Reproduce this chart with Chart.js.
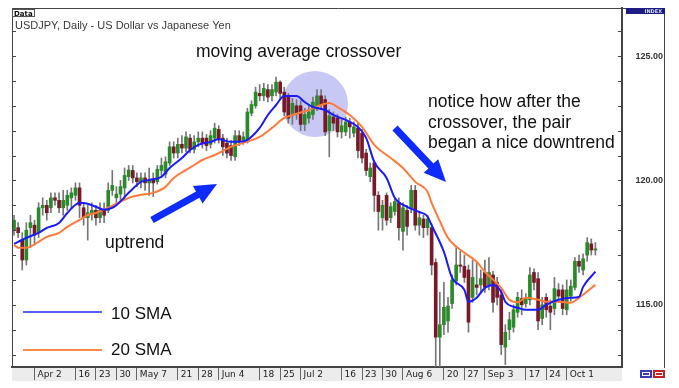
<!DOCTYPE html>
<html>
<head>
<meta charset="utf-8">
<script src="https://cdn.jsdelivr.net/npm/chart.js@4.4.0/dist/chart.umd.min.js"></script>
<style>
  html, body { margin: 0; padding: 0; background: #fff; }
  canvas { display: block; }
</style>
</head>
<body>
<canvas id="chart" width="679" height="388"></canvas>
<script>
// USDJPY daily, 26 Mar - 10 Oct 2007 (one entry per trading day)
const weekLabels = ["", "Apr 2", "", "16", "23", "30", "May 7", "", "21", "28", "Jun 4", "", "18", "25",
  "Jul 2", "", "16", "23", "30", "Aug 6", "", "20", "27", "Sep 3", "", "17", "24", "Oct 1", "", ""];

const open = [
  118.0, 118.1, 117.6, 116.8, 118.1,  118.2, 117.9, 118.9, 119.0, 118.9,
  119.3, 119.2, 118.9, 119.0, 119.3,  119.4, 119.7, 118.9, 118.5, 118.7,
  118.8, 118.5, 118.8, 118.8, 119.6,  119.3, 119.45, 119.7, 120.15, 120.4,
  120.1, 119.95, 120.1, 119.9, 120.05,  119.95, 120.4, 120.25, 120.7, 121.35,
  121.1, 121.45, 121.3, 121.7, 121.25,  121.55, 121.7, 121.7, 121.45, 121.7,
  122.05, 121.7, 121.5, 121.4, 120.95,  121.8, 121.6, 121.55, 122.7, 123.0,
  123.5, 123.4, 123.65, 123.4, 123.55,  123.95, 123.55, 123.35, 122.6, 123.0,
  123.0, 122.25, 122.5, 122.65, 122.9,  123.4, 123.25, 122.0, 122.55, 122.5,
  121.95, 121.95, 122.35, 121.9, 122.1,  121.9, 121.1, 120.15, 120.7, 119.4,
  118.5, 119.4, 118.5, 118.75, 119.1,  117.95, 118.8, 118.9, 119.6, 118.2,
  118.45, 118.1, 118.1, 116.7, 113.7,  114.2, 114.35, 115.05, 115.95, 116.6,
  116.55, 116.4, 115.3, 115.8, 115.8,  116.3, 115.8, 116.2, 115.9, 115.4,
  113.3, 114.0, 114.1, 114.7, 115.25,  115.05, 115.2, 116.3, 116.05, 114.45,
  115.3, 114.95, 114.85, 115.6, 115.6,  114.8, 115.35, 115.7, 116.75, 116.4,
  117.0, 117.45, 117.2
];
const high = [
  118.6, 118.3, 117.9, 118.3, 118.6,  118.4, 119.1, 119.3, 119.2, 119.5,
  119.5, 119.5, 119.6, 119.6, 119.7,  119.9, 119.9, 119.1, 119.0, 119.1,
  119.0, 119.1, 119.1, 119.9, 120.4,  119.75, 120.0, 120.5, 120.6, 120.6,
  120.3, 120.3, 120.3, 120.5, 120.3,  120.6, 120.9, 120.95, 121.55, 121.55,
  121.7, 121.8, 121.95, 121.85, 121.8,  121.95, 121.95, 121.85, 122.0, 122.3,
  122.2, 121.85, 121.7, 121.6, 122.0,  122.0, 121.95, 122.9, 123.2, 123.75,
  123.85, 123.9, 123.85, 123.85, 124.15,  124.0, 123.75, 123.5, 123.3, 123.25,
  123.2, 122.9, 123.0, 123.35, 123.65,  123.65, 123.4, 122.85, 122.75, 122.65,
  122.45, 122.55, 122.5, 122.35, 122.3,  122.05, 121.25, 120.7, 120.8, 119.55,
  119.2, 119.5, 119.1, 119.3, 119.3,  119.1, 119.0, 119.8, 119.8, 118.7,
  118.6, 118.6, 118.25, 116.85, 115.5,  115.9, 115.3, 116.2, 117.3, 117.15,
  117.0, 116.6, 116.8, 116.7, 116.4,  116.8, 116.9, 116.35, 116.1, 115.6,
  114.2, 114.7, 115.0, 115.5, 115.6,  115.45, 116.5, 116.45, 116.3, 115.3,
  115.45, 115.2, 116.1, 115.85, 115.8,  116.0, 116.0, 116.9, 117.0, 117.05,
  117.7, 117.65, 117.5
];
const low = [
  117.8, 117.7, 116.4, 116.6, 117.3,  117.4, 117.7, 118.6, 118.4, 118.7,
  119.0, 118.7, 118.6, 118.8, 118.9,  119.2, 118.5, 118.2, 117.6, 118.4,
  118.2, 118.3, 118.3, 118.7, 119.4,  119.05, 119.2, 119.2, 120.0, 119.9,
  119.75, 119.7, 119.6, 119.4, 119.35,  119.85, 120.2, 120.1, 120.6, 120.9,
  120.9, 121.1, 121.15, 121.1, 121.1,  121.35, 121.3, 121.2, 121.3, 121.5,
  121.5, 121.0, 120.9, 120.8, 120.8,  121.4, 121.45, 121.5, 122.6, 122.9,
  123.2, 123.2, 123.15, 123.2, 123.4,  123.3, 122.6, 122.3, 122.25, 122.45,
  122.0, 122.0, 122.3, 122.45, 122.8,  122.85, 121.8, 120.95, 122.0, 121.75,
  121.7, 121.8, 121.7, 121.75, 120.9,  120.7, 120.2, 119.95, 118.75, 118.0,
  118.0, 118.2, 118.3, 118.6, 117.6,  117.2, 117.8, 118.7, 118.0, 117.8,
  117.7, 117.8, 116.2, 111.6, 111.8,  113.8, 113.9, 114.85, 115.8, 116.3,
  115.9, 113.9, 115.1, 115.4, 115.5,  115.5, 115.6, 114.7, 115.0, 113.0,
  112.6, 113.6, 113.9, 114.5, 114.6,  114.9, 115.0, 115.6, 114.0, 114.2,
  114.5, 114.0, 114.6, 115.1, 114.6,  114.6, 115.15, 115.6, 116.3, 116.2,
  116.75, 117.0, 117.0
];
const close = [
  118.4, 117.9, 116.8, 118.0, 118.3,  117.8, 118.9, 119.0, 118.7, 119.3,
  119.2, 118.9, 119.2, 119.4, 119.5,  119.7, 119.0, 118.5, 118.7, 118.8,
  118.5, 118.8, 118.6, 119.6, 119.8,  119.45, 119.75, 120.2, 120.42, 120.1,
  119.95, 120.1, 119.9, 120.0, 119.9,  120.45, 120.6, 120.75, 121.35, 121.1,
  121.45, 121.3, 121.75, 121.25, 121.55,  121.7, 121.5, 121.4, 121.8, 122.1,
  121.65, 121.35, 121.1, 121.0, 121.8,  121.6, 121.75, 122.75, 123.05, 123.55,
  123.4, 123.7, 123.35, 123.65, 123.95,  123.5, 122.75, 122.5, 123.1, 122.7,
  122.25, 122.65, 122.75, 123.15, 123.4,  123.05, 121.95, 122.6, 122.3, 121.95,
  122.2, 122.35, 122.15, 122.15, 121.2,  120.9, 120.4, 120.5, 119.4, 118.75,
  119.0, 118.4, 118.95, 119.15, 118.1,  118.9, 118.15, 119.6, 118.2, 118.5,
  118.1, 118.45, 116.6, 113.7, 114.2,  114.9, 114.95, 116.0, 116.6, 116.55,
  116.1, 114.3, 116.1, 115.7, 116.05,  115.7, 116.3, 115.1, 115.3, 113.4,
  113.9, 114.4, 114.8, 115.3, 115.0,  115.25, 116.2, 115.9, 114.35, 115.0,
  114.8, 114.7, 115.65, 115.35, 114.85,  115.6, 115.75, 116.75, 116.55, 116.85,
  117.5, 117.2, 117.25
];

// moving averages: [day index, value]
const sma10Pts = [[0,117.45],[1,117.53],[3,117.69],[6,117.89],[8,118.09],[11,118.29],[13,118.69],[15,119.02],
  [16,119.1],[18,119.06],[20,118.94],[22,118.82],[24,118.9],[25,119.0],[28,119.5],[31,119.94],[33,120.02],
  [36,120.14],[38,120.5],[41,120.9],[43,121.22],[45,121.43],[48,121.55],[50,121.65],[53,121.55],[55,121.55],
  [57,121.63],[60,122.11],[62,122.63],[64,123.03],[66,123.39],[69,123.39],[71,123.15],[73,122.95],[76,122.83],
  [78,122.63],[81,122.43],[84,122.15],[86,121.71],[88,120.74],[91,120.1],[93,119.3],[96,118.94],[99,118.73],
  [101,118.55],[102,118.2],[105,117.13],[107,116.08],[110,115.6],[111,115.12],[113,115.28],[115,115.68],
  [117,115.8],[119,115.52],[120,115.12],[122,114.92],[123,114.88],[125,114.8],[128,114.8],[130,115.0],
  [133,115.2],[136,115.28],[138,115.32],[139,115.72],[142,116.33]];
const sma20Pts = [[0,117.41],[1,117.29],[3,117.29],[6,117.53],[8,117.73],[11,117.89],[13,118.13],[16,118.41],
  [18,118.61],[20,118.69],[23,118.9],[28,119.3],[31,119.42],[34,119.5],[37,119.74],[39,120.1],[42,120.42],
  [44,120.62],[46,120.82],[49,121.02],[53,121.35],[56,121.51],[60,121.75],[63,122.11],[66,122.51],[68,122.63],
  [72,122.83],[75,123.03],[77,123.11],[79,122.95],[82,122.63],[85,122.15],[88,121.43],[92,120.9],[95,120.5],
  [98,119.94],[101,119.54],[102,119.1],[104,118.37],[106,117.69],[110,117.09],[113,116.73],[115,116.33],
  [119,115.68],[121,115.2],[123,115.1],[125,115.28],[128,115.2],[130,115.12],[133,115.12],[136,115.08],
  [138,115.28],[142,115.8]];

const yMin = 112.5, yMax = 126.93;
const EMPTY_DAYS = 6; // blank room at the right edge

const n = close.length + EMPTY_DAYS;
const labels = [];
for (let i = 0; i < n; i++) labels.push(i % 5 === 0 ? weekLabels[i / 5] : "");

const toSeries = pts => {
  const a = new Array(n).fill(null);
  pts.forEach(([i, v]) => { a[i] = v; });
  return a;
};
const wicks = low.map((l, i) => [l, high[i]]);
const bodies = open.map((o, i) => [o, close[i]]);
const bodyColors = open.map((o, i) => close[i] >= o ? "#2a8a2a" : "#78192a");

function arrow(ctx, x1, y1, x2, y2, w, hw, hl) {
  const ang = Math.atan2(y2 - y1, x2 - x1);
  const len = Math.hypot(x2 - x1, y2 - y1);
  ctx.save();
  ctx.translate(x1, y1);
  ctx.rotate(ang);
  ctx.beginPath();
  ctx.moveTo(0, -w / 2);
  ctx.lineTo(len - hl, -w / 2);
  ctx.lineTo(len - hl, -hw / 2);
  ctx.lineTo(len, 0);
  ctx.lineTo(len - hl, hw / 2);
  ctx.lineTo(len - hl, w / 2);
  ctx.lineTo(0, w / 2);
  ctx.closePath();
  ctx.fill();
  ctx.restore();
}

const overlay = {
  id: "overlay",
  beforeDraw(chart) {
    const { ctx, chartArea: a } = chart;
    ctx.save();
    ctx.fillStyle = "#ececec";
    ctx.fillRect(a.left, a.bottom, a.right - a.left, 14);
    ctx.restore();
  },
  beforeDatasetsDraw(chart) {
    const { ctx } = chart;
    ctx.save();
    ctx.fillStyle = "rgba(98,98,226,0.35)";
    ctx.beginPath();
    ctx.arc(315, 104, 33, 0, Math.PI * 2);
    ctx.fill();
    ctx.restore();
  },
  afterDraw(chart) {
    const { ctx, chartArea: a } = chart;
    const y = chart.scales.y;
    ctx.save();

    // small price ticks on both sides of the plot
    ctx.strokeStyle = "#444";
    ctx.lineWidth = 1;
    y.ticks.forEach(t => {
      if (!Number.isInteger(t.value)) return;
      const py = Math.round(y.getPixelForValue(t.value)) + 0.5;
      ctx.beginPath();
      ctx.moveTo(a.left, py); ctx.lineTo(a.left + 4, py);
      ctx.moveTo(a.right - 4, py); ctx.lineTo(a.right, py);
      ctx.stroke();
    });

    // frame
    ctx.beginPath();
    ctx.moveTo(12, 8.5); ctx.lineTo(665, 8.5);
    ctx.moveTo(12.5, 8); ctx.lineTo(12.5, a.bottom);
    ctx.moveTo(664.5, 8); ctx.lineTo(664.5, a.bottom + 1);
    ctx.stroke();

    // header
    ctx.fillStyle = "#fff";
    ctx.fillRect(12, 9, 23, 8);
    ctx.strokeStyle = "#555";
    ctx.strokeRect(12.5, 9.5, 22, 7);
    ctx.fillStyle = "#111";
    ctx.font = "bold 7px 'DejaVu Sans'";
    ctx.fillText("Data", 14, 15.5);
    ctx.fillStyle = "#3a3a3a";
    ctx.font = "11px 'Liberation Sans'";
    ctx.fillText("USDJPY, Daily - US Dollar vs Japanese Yen", 15, 28.5);

    ctx.fillStyle = "#1c1c84";
    ctx.fillRect(626, 8, 39, 6);
    ctx.fillStyle = "#dde";
    ctx.font = "bold 5px 'DejaVu Sans'";
    ctx.textAlign = "right";
    ctx.fillText("INDEX", 662, 13);
    ctx.textAlign = "left";

    // corner buttons
    ctx.fillStyle = "#3a3ab8";
    ctx.fillRect(640, 370, 12, 8);
    ctx.fillStyle = "#c42222";
    ctx.fillRect(653, 370, 12, 8);
    ctx.strokeStyle = "#fff";
    ctx.strokeRect(642.5, 372.5, 7, 3);
    ctx.strokeRect(655.5, 372.5, 7, 3);

    // annotations
    ctx.fillStyle = "#111";
    ctx.font = "17.5px 'Liberation Sans'";
    ctx.fillText("moving average crossover", 196, 57);
    ctx.fillText("notice how after the", 428, 107);
    ctx.fillText("crossover, the pair", 428, 128);
    ctx.fillText("began a nice downtrend", 428, 148);
    ctx.fillText("uptrend", 105, 248);

    ctx.fillStyle = "#0d2bff";
    arrow(ctx, 152, 220, 217, 184, 7, 20, 22);
    arrow(ctx, 395, 128, 446, 182, 7, 20, 22);

    // legend
    ctx.lineWidth = 2;
    ctx.strokeStyle = "#5a5aff";
    ctx.beginPath(); ctx.moveTo(23, 312); ctx.lineTo(102, 312); ctx.stroke();
    ctx.strokeStyle = "#ff8a4c";
    ctx.beginPath(); ctx.moveTo(23, 350); ctx.lineTo(102, 350); ctx.stroke();
    ctx.fillStyle = "#111";
    ctx.font = "17px 'Liberation Sans'";
    ctx.fillText("10 SMA", 111, 319);
    ctx.fillText("20 SMA", 111, 355);

    ctx.restore();
  }
};

new Chart(document.getElementById("chart"), {
  type: "bar",
  data: {
    labels: labels,
    datasets: [
      {
        type: "line", label: "10 SMA", data: toSeries(sma10Pts),
        borderColor: "#1a1aff", borderWidth: 2, pointRadius: 0,
        spanGaps: true, cubicInterpolationMode: "monotone"
      },
      {
        type: "line", label: "20 SMA", data: toSeries(sma20Pts),
        borderColor: "#ff7a38", borderWidth: 2, pointRadius: 0,
        spanGaps: true, cubicInterpolationMode: "monotone"
      },
      {
        label: "body", data: bodies, backgroundColor: bodyColors,
        barThickness: 3, grouped: false, minBarLength: 1
      },
      {
        label: "range", data: wicks, backgroundColor: "#767676",
        barThickness: 1, grouped: false
      }
    ]
  },
  options: {
    responsive: false,
    animation: false,
    layout: { padding: { left: 12, top: 8, right: 16, bottom: 7 } },
    plugins: { legend: { display: false }, tooltip: { enabled: false } },
    scales: {
      x: {
        offset: true,
        grid: {
          drawOnChartArea: false, drawTicks: true, tickLength: 13, offset: false,
          color: ctx => labels[ctx.index] ? "#666" : "rgba(0,0,0,0)"
        },
        border: { display: true, color: "#444", width: 2 },
        ticks: {
          autoSkip: false, maxRotation: 0, minRotation: 0, align: "start",
          labelOffset: 3, padding: -11, color: "#222",
          font: { family: "DejaVu Sans", size: 9 },
          callback: v => labels[v]
        },
        afterFit: s => { s.height = 14; }
      },
      y: {
        position: "right", min: yMin, max: yMax,
        grid: { drawOnChartArea: false, drawTicks: false },
        border: { display: true, color: "#444", width: 2 },
        ticks: {
          stepSize: 1, crossAlign: "far", padding: 0, color: "#333",
          font: { family: "Liberation Sans", size: 9, weight: "bold" },
          callback: v => v % 5 === 0 ? v.toFixed(2) : ""
        },
        afterFit: s => { s.width = 41; }
      }
    }
  },
  plugins: [overlay]
});
</script>
</body>
</html>
